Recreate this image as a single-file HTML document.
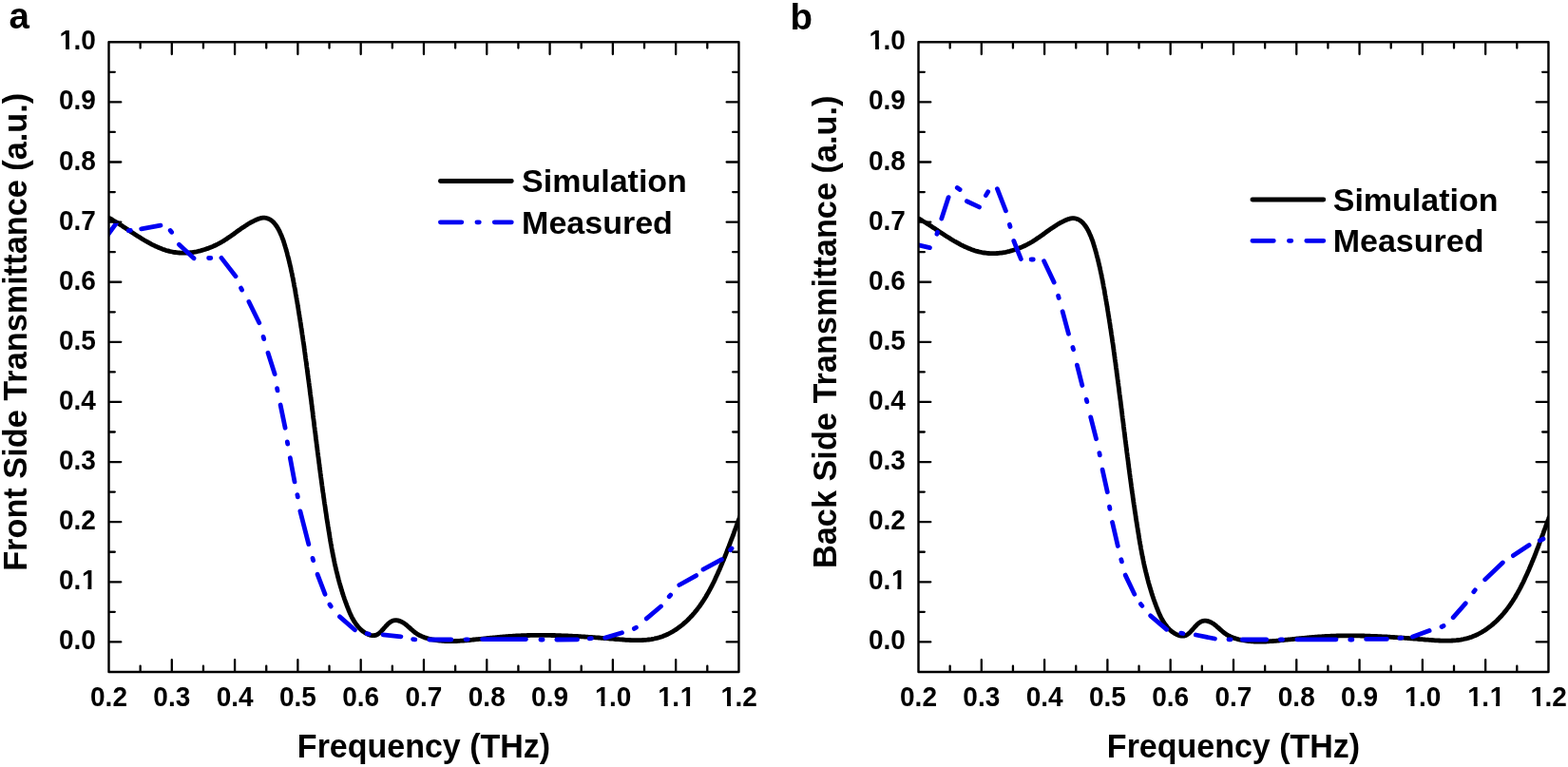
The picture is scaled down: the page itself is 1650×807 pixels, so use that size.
<!DOCTYPE html>
<html><head><meta charset="utf-8"><title>Transmittance</title>
<style>
html,body{margin:0;padding:0;background:#fff;}
body{width:1650px;height:807px;overflow:hidden;}
svg{display:block;font-family:"Liberation Sans", Arial, sans-serif;}
</style></head><body>
<svg width="1650" height="807" viewBox="0 0 1650 807">
<rect width="1650" height="807" fill="#fff"/>
<defs>
<clipPath id="clipa"><rect x="114.5" y="44.3" width="663.0" height="662.7"/></clipPath>
<clipPath id="clipb"><rect x="966.5" y="44.3" width="663.0" height="662.7"/></clipPath>
</defs>

<g clip-path="url(#clipa)">
<path d="M115.4,229.7 116.7,230.4 118.1,231.2 119.4,232.0 120.6,232.7 122.0,233.5 123.3,234.4 124.5,235.1 125.9,236.0 127.0,236.7 128.4,237.6 129.6,238.4 130.8,239.2 132.2,240.1 133.4,240.9 134.5,241.6 135.7,242.4 137.2,243.4 138.4,244.2 139.6,245.0 140.8,245.8 142.2,246.7 143.4,247.5 144.6,248.3 145.9,249.0 147.1,249.8 148.3,250.6 149.8,251.5 151.0,252.2 152.3,253.0 153.5,253.7 154.8,254.4 156.3,255.3 157.6,255.9 158.8,256.6 160.1,257.3 161.6,258.0 162.9,258.7 164.2,259.3 165.5,259.8 167.0,260.5 168.3,261.1 169.6,261.6 171.2,262.2 172.5,262.6 174.1,263.2 175.4,263.6 176.7,263.9 178.3,264.4 179.7,264.7 181.3,265.0 182.6,265.3 184.2,265.5 185.6,265.7 187.2,265.9 188.6,266.0 190.2,266.1 191.6,266.2 193.2,266.2 194.6,266.2 196.3,266.1 197.6,266.0 199.3,265.9 200.7,265.7 202.0,265.6 203.7,265.3 205.0,265.1 206.7,264.8 208.1,264.5 209.4,264.2 211.0,263.8 212.4,263.4 213.7,263.0 215.4,262.5 216.7,262.1 218.0,261.6 219.6,261.1 220.9,260.6 222.2,260.0 223.8,259.4 225.1,258.8 226.4,258.2 227.9,257.5 229.2,256.8 230.4,256.2 231.9,255.4 233.1,254.7 234.4,254.0 235.6,253.2 237.0,252.3 238.2,251.6 239.3,250.8 240.7,249.8 241.9,249.1 243.1,248.2 244.4,247.3 245.6,246.5 246.9,245.5 248.1,244.6 249.2,243.8 250.6,242.8 251.7,242.0 252.9,241.2 254.2,240.2 255.4,239.4 256.6,238.7 258.0,237.7 259.2,237.0 260.3,236.2 261.8,235.3 263.0,234.6 264.2,233.9 265.5,233.3 267.0,232.5 268.3,231.9 269.6,231.3 270.9,230.7 272.5,230.1 273.9,229.7 275.2,229.4 276.8,229.2 278.4,229.2 279.8,229.3 281.3,229.7 282.5,230.2 284.0,230.9 285.3,231.8 286.4,232.6 287.6,233.7 288.5,234.7 289.6,236.0 290.5,237.2 291.3,238.4 292.1,239.6 292.8,240.9 293.5,242.2 294.2,243.5 294.9,245.1 295.5,246.4 296.1,247.7 296.6,249.0 297.2,250.6 297.7,251.9 298.2,253.2 298.7,254.8 299.1,256.1 299.6,257.7 300.0,259.0 300.4,260.4 300.9,262.0 301.2,263.3 301.7,264.9 302.1,266.2 302.4,267.6 302.8,269.2 303.2,270.5 303.6,272.1 303.9,273.5 304.3,274.9 304.6,276.5 305.0,277.8 305.3,279.5 305.7,280.8 306.0,282.2 306.3,283.8 306.6,285.2 306.9,286.6 307.3,288.2 307.5,289.6 307.8,291.0 308.2,292.6 308.4,294.0 308.7,295.4 309.0,297.0 309.3,298.4 309.5,299.8 309.8,301.5 310.1,302.8 310.4,304.2 310.7,305.9 310.9,307.3 311.1,308.7 311.4,310.3 311.7,311.7 311.9,313.1 312.2,314.8 312.4,316.2 312.7,317.5 312.9,319.2 313.2,320.6 313.4,322.0 313.7,323.6 313.9,325.0 314.1,326.4 314.4,328.1 314.6,329.5 314.8,330.8 315.1,332.5 315.3,333.9 315.6,335.6 315.8,336.9 316.0,338.3 316.3,340.0 316.5,341.4 316.7,342.8 316.9,344.4 317.2,345.8 317.4,347.2 317.6,348.8 317.8,350.2 318.0,351.6 318.3,353.3 318.5,354.7 318.7,356.3 318.9,357.7 319.1,359.1 319.4,360.8 319.6,362.1 319.8,363.5 320.0,365.2 320.2,366.6 320.4,367.9 320.6,369.6 320.8,371.0 321.0,372.7 321.2,374.0 321.4,375.4 321.6,377.1 321.8,378.5 322.0,379.9 322.3,381.5 322.4,382.9 322.6,384.3 322.8,386.0 323.0,387.3 323.3,389.0 323.4,390.4 323.6,391.8 323.8,393.4 324.0,394.8 324.2,396.2 324.4,397.9 324.6,399.3 324.8,400.6 325.0,402.3 325.2,403.7 325.4,405.4 325.6,406.8 325.8,408.1 326.0,409.8 326.1,411.2 326.3,412.6 326.5,414.3 326.7,415.6 326.9,417.0 327.1,418.7 327.3,420.1 327.5,421.5 327.7,423.1 327.8,424.5 328.1,426.2 328.2,427.6 328.4,429.0 328.6,430.7 328.8,432.1 329.0,433.4 329.2,435.1 329.3,436.5 329.5,437.9 329.7,439.6 329.9,441.0 330.1,442.4 330.3,444.0 330.5,445.4 330.6,446.8 330.8,448.5 331.0,449.9 331.2,451.3 331.4,453.0 331.6,454.4 331.8,455.8 332.0,457.4 332.1,458.8 332.3,460.2 332.5,461.9 332.7,463.3 332.9,464.7 333.1,466.4 333.3,467.8 333.4,469.2 333.7,470.8 333.8,472.2 334.0,473.6 334.2,475.3 334.4,476.7 334.6,478.1 334.8,479.8 335.0,481.2 335.2,482.6 335.4,484.2 335.6,485.6 335.7,487.0 336.0,488.7 336.1,490.1 336.3,491.5 336.5,493.2 336.7,494.5 336.9,495.9 337.1,497.6 337.3,499.0 337.5,500.4 337.7,502.1 337.9,503.5 338.1,504.9 338.3,506.5 338.5,507.9 338.7,509.3 338.9,511.0 339.1,512.4 339.3,513.8 339.5,515.4 339.7,516.8 339.9,518.2 340.2,519.9 340.4,521.3 340.5,522.6 340.8,524.3 341.0,525.7 341.2,527.4 341.4,528.7 341.6,530.1 341.9,531.8 342.1,533.2 342.3,534.6 342.5,536.2 342.7,537.6 342.9,539.0 343.2,540.6 343.4,542.0 343.6,543.7 343.8,545.1 344.0,546.4 344.3,548.1 344.5,549.5 344.8,551.1 345.0,552.5 345.2,553.9 345.5,555.5 345.7,556.9 345.9,558.3 346.2,559.9 346.4,561.3 346.7,562.9 346.9,564.3 347.1,565.7 347.4,567.3 347.6,568.7 347.9,570.3 348.1,571.7 348.4,573.0 348.7,574.7 348.9,576.1 349.2,577.7 349.5,579.1 349.7,580.4 350.0,582.1 350.3,583.4 350.6,585.1 350.9,586.4 351.2,587.8 351.5,589.4 351.8,590.8 352.1,592.4 352.4,593.8 352.7,595.1 353.1,596.8 353.4,598.1 353.8,599.8 354.1,601.1 354.5,602.5 354.9,604.1 355.2,605.5 355.5,606.8 356.0,608.5 356.3,609.8 356.7,611.2 357.1,612.8 357.5,614.2 357.9,615.5 358.4,617.2 358.8,618.5 359.2,619.9 359.6,621.3 360.1,622.9 360.5,624.3 361.0,625.6 361.4,627.0 362.0,628.6 362.4,630.0 362.9,631.3 363.4,632.7 363.9,634.1 364.5,635.7 365.0,637.1 365.5,638.4 366.0,639.8 366.6,641.1 367.1,642.5 367.8,644.1 368.4,645.4 369.0,646.7 369.6,648.0 370.2,649.3 371.0,650.8 371.7,652.0 372.4,653.2 373.3,654.7 374.1,655.8 375.0,657.2 375.9,658.2 376.9,659.5 377.8,660.5 378.9,661.6 379.9,662.6 381.1,663.6 382.3,664.6 383.4,665.3 384.8,666.2 386.2,666.9 387.5,667.5 389.0,668.1 390.2,668.4 391.7,668.7 393.2,668.7 394.7,668.5 396.1,668.1 397.5,667.4 398.9,666.4 399.9,665.5 401.0,664.5 402.0,663.3 403.1,662.2 403.9,661.2 405.0,660.0 406.0,658.8 407.1,657.7 407.9,656.8 409.0,655.8 410.4,654.7 411.6,653.9 412.8,653.3 414.3,652.9 415.9,652.7 417.2,652.7 418.8,652.9 420.4,653.4 421.7,653.8 423.1,654.5 424.3,655.2 425.7,656.1 426.8,657.0 427.9,657.8 429.0,658.8 430.3,659.9 431.4,660.9 432.5,661.9 433.6,662.8 434.7,663.8 435.8,664.7 437.1,665.8 438.3,666.6 439.5,667.4 440.9,668.2 442.2,668.8 443.5,669.4 445.0,670.1 446.3,670.6 447.9,671.1 449.2,671.5 450.5,671.9 452.1,672.3 453.5,672.6 455.1,673.0 456.4,673.2 458.1,673.5 459.4,673.7 460.8,673.9 462.5,674.1 463.8,674.2 465.5,674.3 466.9,674.4 468.3,674.5 469.9,674.6 471.3,674.6 473.0,674.6 474.4,674.6 475.8,674.6 477.5,674.6 478.9,674.5 480.3,674.5 482.0,674.4 483.4,674.3 484.8,674.2 486.5,674.1 487.9,674.0 489.3,673.9 490.7,673.8 492.4,673.6 493.8,673.5 495.2,673.3 496.9,673.2 498.4,673.0 499.8,672.9 501.5,672.7 502.9,672.6 504.3,672.4 505.7,672.3 507.4,672.1 508.8,672.0 510.2,671.8 511.9,671.6 513.3,671.5 514.7,671.4 516.3,671.2 517.7,671.1 519.1,670.9 520.8,670.8 522.2,670.6 523.6,670.5 525.3,670.3 526.7,670.2 528.1,670.1 529.8,669.9 531.2,669.8 532.6,669.7 534.2,669.6 535.6,669.5 537.0,669.4 538.7,669.3 540.1,669.2 541.8,669.1 543.2,669.0 544.6,668.9 546.2,668.8 547.6,668.8 549.0,668.7 550.7,668.7 552.1,668.6 553.8,668.6 555.2,668.5 556.6,668.5 558.2,668.4 559.6,668.4 561.0,668.4 562.7,668.4 564.1,668.4 565.8,668.3 567.2,668.3 568.6,668.3 570.2,668.3 571.6,668.3 573.0,668.3 574.7,668.4 576.1,668.4 577.8,668.4 579.2,668.4 580.6,668.5 582.2,668.5 583.6,668.5 585.0,668.6 586.7,668.6 588.1,668.7 589.8,668.7 591.2,668.8 592.6,668.8 594.2,668.9 595.6,668.9 597.0,669.0 598.7,669.1 600.1,669.1 601.5,669.2 603.2,669.3 604.6,669.4 606.3,669.5 607.7,669.5 609.1,669.6 610.7,669.7 612.1,669.8 613.5,669.9 615.2,670.0 616.6,670.1 618.0,670.2 619.7,670.3 621.1,670.4 622.5,670.5 624.2,670.6 625.6,670.7 627.0,670.8 628.7,670.9 630.1,671.0 631.5,671.1 633.2,671.3 634.6,671.4 636.0,671.5 637.7,671.6 639.1,671.7 640.5,671.8 641.9,672.0 643.6,672.1 645.0,672.2 646.4,672.3 648.1,672.5 649.5,672.6 651.0,672.7 652.6,672.8 654.1,672.9 655.5,673.0 656.9,673.1 658.6,673.3 660.0,673.3 661.4,673.4 663.1,673.5 664.5,673.6 665.9,673.6 667.6,673.6 669.0,673.7 670.4,673.7 672.0,673.7 673.4,673.6 675.1,673.6 676.5,673.5 677.9,673.4 679.5,673.3 680.9,673.2 682.5,673.0 683.9,672.8 685.5,672.6 686.9,672.3 688.5,672.0 689.8,671.7 691.4,671.4 692.8,671.0 694.3,670.6 695.7,670.1 697.0,669.7 698.5,669.1 699.8,668.6 701.1,668.0 702.7,667.3 703.9,666.7 705.2,666.0 706.7,665.2 707.9,664.5 709.1,663.7 710.4,663.0 711.8,662.0 713.0,661.2 714.1,660.3 715.3,659.5 716.4,658.6 717.8,657.6 718.9,656.7 719.9,655.7 721.2,654.6 722.2,653.7 723.3,652.7 724.5,651.5 725.5,650.5 726.4,649.5 727.6,648.3 728.5,647.3 729.5,646.2 730.6,645.0 731.4,643.9 732.5,642.6 733.4,641.5 734.2,640.4 735.2,639.1 736.1,638.0 737.0,636.6 737.8,635.5 738.6,634.3 739.5,632.9 740.3,631.8 741.0,630.6 741.9,629.2 742.7,628.0 743.5,626.5 744.2,625.3 744.9,624.1 745.7,622.7 746.4,621.4 747.1,620.2 747.9,618.7 748.5,617.5 749.2,616.2 749.9,614.7 750.6,613.4 751.2,612.2 751.9,610.7 752.5,609.4 753.1,608.1 753.8,606.6 754.4,605.3 755.0,604.0 755.7,602.5 756.2,601.2 756.8,599.9 757.5,598.4 758.0,597.1 758.6,595.8 759.2,594.2 759.8,592.9 760.3,591.6 761.0,590.1 761.5,588.8 762.1,587.2 762.7,585.9 763.2,584.6 763.8,583.1 764.3,581.8 764.8,580.5 765.4,578.9 765.9,577.6 766.4,576.3 767.1,574.7 767.5,573.4 768.0,572.1 768.6,570.5 769.1,569.2 769.7,567.7 770.2,566.3 770.7,565.0 771.3,563.5 771.8,562.1 772.3,560.8 772.8,559.3 773.3,557.9 773.8,556.6 774.4,555.0 774.9,553.7 775.4,552.4 775.9,550.8 776.4,549.5 776.9,548.2 777.5,546.6 778.0,545.3 778.4,544.0" transform="translate(0.0,0.0)" stroke="#000" stroke-width="4.80" fill="none" stroke-linejoin="round" stroke-linecap="round"/>
<path d="M113.5,247.0 L122.4,234.8 M135.2,242.6 L137.4,242.4 M148.7,240.8 L169.0,237.1 M179.2,242.5 L180.6,244.3 M188.4,257.3 L204.0,271.8 M219.6,271.5 L221.8,271.5 M233.0,271.4 L248.0,290.7 M253.6,303.1 L254.6,305.1 M261.9,317.5 L272.8,339.7 M277.1,354.4 L277.7,356.6 M282.0,371.3 L289.1,393.6 M291.6,408.7 L292.0,410.9 M295.1,426.0 L300.1,450.2 M302.3,464.9 L302.7,467.1 M305.3,481.8 L310.0,506.9 M312.9,520.6 L313.3,522.8 M315.9,537.9 L324.8,572.6 M329.0,587.4 L329.6,589.6 M334.1,604.3 L342.0,625.2 M347.0,636.1 L348.2,637.9 M357.5,648.9 L373.4,662.8 M386.1,666.6 L388.3,667.0 M403.1,667.8 L421.9,669.8 M434.6,672.7 L436.8,672.9 M451.8,673.0 L474.8,673.0 M490.1,672.8 L492.3,672.8 M507.5,672.6 L553.5,672.6 M568.9,673.0 L571.1,673.0 M585.8,673.0 L607.6,672.8 M620.2,671.9 L622.4,671.7 M636.7,671.1 L654.5,665.8 M667.4,661.4 L669.4,660.2 M680.3,650.9 L695.5,638.0 M704.2,627.7 L705.6,626.1 M714.8,615.5 L732.6,605.6 M740.0,599.1 L759.4,588.7 M768.6,578.6 L770.0,577.0" stroke="#0000f2" stroke-width="4.80" fill="none" stroke-linejoin="round" stroke-linecap="round"/>
</g>
<path d="M147.65,705.80v-5.15 M147.65,45.45v5.15 M180.80,705.80v-11.65 M180.80,45.45v11.65 M213.94,705.80v-5.15 M213.94,45.45v5.15 M247.09,705.80v-11.65 M247.09,45.45v11.65 M280.24,705.80v-5.15 M280.24,45.45v5.15 M313.38,705.80v-11.65 M313.38,45.45v11.65 M346.53,705.80v-5.15 M346.53,45.45v5.15 M379.68,705.80v-11.65 M379.68,45.45v11.65 M412.83,705.80v-5.15 M412.83,45.45v5.15 M445.97,705.80v-11.65 M445.97,45.45v11.65 M479.12,705.80v-5.15 M479.12,45.45v5.15 M512.27,705.80v-11.65 M512.27,45.45v11.65 M545.42,705.80v-5.15 M545.42,45.45v5.15 M578.57,705.80v-11.65 M578.57,45.45v11.65 M611.71,705.80v-5.15 M611.71,45.45v5.15 M644.86,705.80v-11.65 M644.86,45.45v11.65 M678.01,705.80v-5.15 M678.01,45.45v5.15 M711.16,705.80v-11.65 M711.16,45.45v11.65 M744.30,705.80v-5.15 M744.30,45.45v5.15 M115.65,675.40h11.65 M776.30,675.40h-11.65 M115.65,643.85h5.15 M776.30,643.85h-5.15 M115.65,612.29h11.65 M776.30,612.29h-11.65 M115.65,580.73h5.15 M776.30,580.73h-5.15 M115.65,549.18h11.65 M776.30,549.18h-11.65 M115.65,517.62h5.15 M776.30,517.62h-5.15 M115.65,486.07h11.65 M776.30,486.07h-11.65 M115.65,454.51h5.15 M776.30,454.51h-5.15 M115.65,422.96h11.65 M776.30,422.96h-11.65 M115.65,391.40h5.15 M776.30,391.40h-5.15 M115.65,359.85h11.65 M776.30,359.85h-11.65 M115.65,328.29h5.15 M776.30,328.29h-5.15 M115.65,296.74h11.65 M776.30,296.74h-11.65 M115.65,265.18h5.15 M776.30,265.18h-5.15 M115.65,233.63h11.65 M776.30,233.63h-11.65 M115.65,202.07h5.15 M776.30,202.07h-5.15 M115.65,170.52h11.65 M776.30,170.52h-11.65 M115.65,138.96h5.15 M776.30,138.96h-5.15 M115.65,107.41h11.65 M776.30,107.41h-11.65 M115.65,75.86h5.15 M776.30,75.86h-5.15" stroke="#000" stroke-width="2.3" stroke-linecap="round" fill="none"/>
<rect x="114.50" y="44.30" width="662.95" height="662.65" fill="none" stroke="#000" stroke-width="2.4" stroke-linejoin="round"/>
<g font-size="28" font-weight="bold"><text transform="translate(95.04,742.60) scale(1,1.040)" x="0.00 15.57 23.35">0.2</text><text transform="translate(161.33,742.60) scale(1,1.040)" x="0.00 15.57 23.35">0.3</text><text transform="translate(227.63,742.60) scale(1,1.040)" x="0.00 15.57 23.35">0.4</text><text transform="translate(293.92,742.60) scale(1,1.040)" x="0.00 15.57 23.35">0.5</text><text transform="translate(360.22,742.60) scale(1,1.040)" x="0.00 15.57 23.35">0.6</text><text transform="translate(426.51,742.60) scale(1,1.040)" x="0.00 15.57 23.35">0.7</text><text transform="translate(492.81,742.60) scale(1,1.040)" x="0.00 15.57 23.35">0.8</text><text transform="translate(559.10,742.60) scale(1,1.040)" x="0.00 15.57 23.35">0.9</text><text transform="translate(625.40,742.60) scale(1,1.040)" x="0.60 15.57 23.35">1.0</text><text transform="translate(691.69,742.60) scale(1,1.040)" x="0.60 15.57 23.95">1.1</text><text transform="translate(757.99,742.60) scale(1,1.040)" x="0.60 15.57 23.35">1.2</text><text transform="translate(61.98,683.40) scale(1,1.040)" x="0.00 15.57 23.35">0.0</text><text transform="translate(61.98,620.29) scale(1,1.040)" x="0.00 15.57 23.95">0.1</text><text transform="translate(61.98,557.18) scale(1,1.040)" x="0.00 15.57 23.35">0.2</text><text transform="translate(61.98,494.07) scale(1,1.040)" x="0.00 15.57 23.35">0.3</text><text transform="translate(61.98,430.96) scale(1,1.040)" x="0.00 15.57 23.35">0.4</text><text transform="translate(61.98,367.85) scale(1,1.040)" x="0.00 15.57 23.35">0.5</text><text transform="translate(61.98,304.74) scale(1,1.040)" x="0.00 15.57 23.35">0.6</text><text transform="translate(61.98,241.63) scale(1,1.040)" x="0.00 15.57 23.35">0.7</text><text transform="translate(61.98,178.52) scale(1,1.040)" x="0.00 15.57 23.35">0.8</text><text transform="translate(61.98,115.41) scale(1,1.040)" x="0.00 15.57 23.35">0.9</text><text transform="translate(61.98,52.30) scale(1,1.040)" x="0.60 15.57 23.35">1.0</text></g>
<g fill="#fff"><rect x="626.96" y="739.28" width="5.52" height="3.92"/><rect x="636.43" y="739.28" width="5.17" height="3.92"/><rect x="693.26" y="739.28" width="5.52" height="3.92"/><rect x="702.72" y="739.28" width="5.17" height="3.92"/><rect x="716.61" y="739.28" width="5.52" height="3.92"/><rect x="726.07" y="739.28" width="5.17" height="3.92"/><rect x="759.55" y="739.28" width="5.52" height="3.92"/><rect x="769.02" y="739.28" width="5.17" height="3.92"/><rect x="86.89" y="616.97" width="5.52" height="3.92"/><rect x="96.35" y="616.97" width="5.17" height="3.92"/><rect x="63.54" y="48.98" width="5.52" height="3.92"/><rect x="73.00" y="48.98" width="5.17" height="3.92"/></g>
<path d="M463.4,190.5H538.3" stroke="#000" stroke-width="4.80" stroke-linecap="round"/>
<path d="M463.4,233.8H485.8 M501.9,233.8H504.3 M520.3,233.8H538.3" stroke="#0000f2" stroke-width="4.80" stroke-linecap="round"/>
<g font-size="34" font-weight="bold">
<text transform="translate(549.1,202.4) scale(1,1.000)">Simulation</text>
<text transform="translate(549.1,245.7) scale(1,1.000)">Measured</text>
</g>
<text transform="translate(446.0,797.4) scale(1,1.020)" font-size="34" font-weight="bold" text-anchor="middle">Frequency (THz)</text>
<text transform="translate(27.8,349.3) rotate(-90)" font-size="34.3" font-weight="bold" text-anchor="middle">Front Side Transmittance (a.u.)</text>
<g clip-path="url(#clipb)">
<path d="M115.4,229.7 116.7,230.4 118.1,231.2 119.4,232.0 120.6,232.7 122.0,233.5 123.3,234.4 124.5,235.1 125.9,236.0 127.0,236.7 128.4,237.6 129.6,238.4 130.8,239.2 132.2,240.1 133.4,240.9 134.5,241.6 135.7,242.4 137.2,243.4 138.4,244.2 139.6,245.0 140.8,245.8 142.2,246.7 143.4,247.5 144.6,248.3 145.9,249.0 147.1,249.8 148.3,250.6 149.8,251.5 151.0,252.2 152.3,253.0 153.5,253.7 154.8,254.4 156.3,255.3 157.6,255.9 158.8,256.6 160.1,257.3 161.6,258.0 162.9,258.7 164.2,259.3 165.5,259.8 167.0,260.5 168.3,261.1 169.6,261.6 171.2,262.2 172.5,262.6 174.1,263.2 175.4,263.6 176.7,263.9 178.3,264.4 179.7,264.7 181.3,265.0 182.6,265.3 184.2,265.5 185.6,265.7 187.2,265.9 188.6,266.0 190.2,266.1 191.6,266.2 193.2,266.2 194.6,266.2 196.3,266.1 197.6,266.0 199.3,265.9 200.7,265.7 202.0,265.6 203.7,265.3 205.0,265.1 206.7,264.8 208.1,264.5 209.4,264.2 211.0,263.8 212.4,263.4 213.7,263.0 215.4,262.5 216.7,262.1 218.0,261.6 219.6,261.1 220.9,260.6 222.2,260.0 223.8,259.4 225.1,258.8 226.4,258.2 227.9,257.5 229.2,256.8 230.4,256.2 231.9,255.4 233.1,254.7 234.4,254.0 235.6,253.2 237.0,252.3 238.2,251.6 239.3,250.8 240.7,249.8 241.9,249.1 243.1,248.2 244.4,247.3 245.6,246.5 246.9,245.5 248.1,244.6 249.2,243.8 250.6,242.8 251.7,242.0 252.9,241.2 254.2,240.2 255.4,239.4 256.6,238.7 258.0,237.7 259.2,237.0 260.3,236.2 261.8,235.3 263.0,234.6 264.2,233.9 265.5,233.3 267.0,232.5 268.3,231.9 269.6,231.3 270.9,230.7 272.5,230.1 273.9,229.7 275.2,229.4 276.8,229.2 278.4,229.2 279.8,229.3 281.3,229.7 282.5,230.2 284.0,230.9 285.3,231.8 286.4,232.6 287.6,233.7 288.5,234.7 289.6,236.0 290.5,237.2 291.3,238.4 292.1,239.6 292.8,240.9 293.5,242.2 294.2,243.5 294.9,245.1 295.5,246.4 296.1,247.7 296.6,249.0 297.2,250.6 297.7,251.9 298.2,253.2 298.7,254.8 299.1,256.1 299.6,257.7 300.0,259.0 300.4,260.4 300.9,262.0 301.2,263.3 301.7,264.9 302.1,266.2 302.4,267.6 302.8,269.2 303.2,270.5 303.6,272.1 303.9,273.5 304.3,274.9 304.6,276.5 305.0,277.8 305.3,279.5 305.7,280.8 306.0,282.2 306.3,283.8 306.6,285.2 306.9,286.6 307.3,288.2 307.5,289.6 307.8,291.0 308.2,292.6 308.4,294.0 308.7,295.4 309.0,297.0 309.3,298.4 309.5,299.8 309.8,301.5 310.1,302.8 310.4,304.2 310.7,305.9 310.9,307.3 311.1,308.7 311.4,310.3 311.7,311.7 311.9,313.1 312.2,314.8 312.4,316.2 312.7,317.5 312.9,319.2 313.2,320.6 313.4,322.0 313.7,323.6 313.9,325.0 314.1,326.4 314.4,328.1 314.6,329.5 314.8,330.8 315.1,332.5 315.3,333.9 315.6,335.6 315.8,336.9 316.0,338.3 316.3,340.0 316.5,341.4 316.7,342.8 316.9,344.4 317.2,345.8 317.4,347.2 317.6,348.8 317.8,350.2 318.0,351.6 318.3,353.3 318.5,354.7 318.7,356.3 318.9,357.7 319.1,359.1 319.4,360.8 319.6,362.1 319.8,363.5 320.0,365.2 320.2,366.6 320.4,367.9 320.6,369.6 320.8,371.0 321.0,372.7 321.2,374.0 321.4,375.4 321.6,377.1 321.8,378.5 322.0,379.9 322.3,381.5 322.4,382.9 322.6,384.3 322.8,386.0 323.0,387.3 323.3,389.0 323.4,390.4 323.6,391.8 323.8,393.4 324.0,394.8 324.2,396.2 324.4,397.9 324.6,399.3 324.8,400.6 325.0,402.3 325.2,403.7 325.4,405.4 325.6,406.8 325.8,408.1 326.0,409.8 326.1,411.2 326.3,412.6 326.5,414.3 326.7,415.6 326.9,417.0 327.1,418.7 327.3,420.1 327.5,421.5 327.7,423.1 327.8,424.5 328.1,426.2 328.2,427.6 328.4,429.0 328.6,430.7 328.8,432.1 329.0,433.4 329.2,435.1 329.3,436.5 329.5,437.9 329.7,439.6 329.9,441.0 330.1,442.4 330.3,444.0 330.5,445.4 330.6,446.8 330.8,448.5 331.0,449.9 331.2,451.3 331.4,453.0 331.6,454.4 331.8,455.8 332.0,457.4 332.1,458.8 332.3,460.2 332.5,461.9 332.7,463.3 332.9,464.7 333.1,466.4 333.3,467.8 333.4,469.2 333.7,470.8 333.8,472.2 334.0,473.6 334.2,475.3 334.4,476.7 334.6,478.1 334.8,479.8 335.0,481.2 335.2,482.6 335.4,484.2 335.6,485.6 335.7,487.0 336.0,488.7 336.1,490.1 336.3,491.5 336.5,493.2 336.7,494.5 336.9,495.9 337.1,497.6 337.3,499.0 337.5,500.4 337.7,502.1 337.9,503.5 338.1,504.9 338.3,506.5 338.5,507.9 338.7,509.3 338.9,511.0 339.1,512.4 339.3,513.8 339.5,515.4 339.7,516.8 339.9,518.2 340.2,519.9 340.4,521.3 340.5,522.6 340.8,524.3 341.0,525.7 341.2,527.4 341.4,528.7 341.6,530.1 341.9,531.8 342.1,533.2 342.3,534.6 342.5,536.2 342.7,537.6 342.9,539.0 343.2,540.6 343.4,542.0 343.6,543.7 343.8,545.1 344.0,546.4 344.3,548.1 344.5,549.5 344.8,551.1 345.0,552.5 345.2,553.9 345.5,555.5 345.7,556.9 345.9,558.3 346.2,559.9 346.4,561.3 346.7,562.9 346.9,564.3 347.1,565.7 347.4,567.3 347.6,568.7 347.9,570.3 348.1,571.7 348.4,573.0 348.7,574.7 348.9,576.1 349.2,577.7 349.5,579.1 349.7,580.4 350.0,582.1 350.3,583.4 350.6,585.1 350.9,586.4 351.2,587.8 351.5,589.4 351.8,590.8 352.1,592.4 352.4,593.8 352.7,595.1 353.1,596.8 353.4,598.1 353.8,599.8 354.1,601.1 354.5,602.5 354.9,604.1 355.2,605.5 355.5,606.8 356.0,608.5 356.3,609.8 356.7,611.2 357.1,612.8 357.5,614.2 357.9,615.5 358.4,617.2 358.8,618.5 359.2,619.9 359.6,621.3 360.1,622.9 360.5,624.3 361.0,625.6 361.4,627.0 362.0,628.6 362.4,630.0 362.9,631.3 363.4,632.7 363.9,634.1 364.5,635.7 365.0,637.1 365.5,638.4 366.0,639.8 366.6,641.1 367.1,642.5 367.8,644.1 368.4,645.4 369.0,646.7 369.6,648.0 370.2,649.3 371.0,650.8 371.7,652.0 372.4,653.2 373.3,654.7 374.1,655.8 375.0,657.2 375.9,658.2 376.9,659.5 377.8,660.5 378.9,661.6 379.9,662.6 381.1,663.6 382.3,664.6 383.4,665.3 384.8,666.2 386.2,666.9 387.5,667.5 389.0,668.1 390.2,668.4 391.7,668.7 393.2,668.7 394.7,668.5 396.1,668.1 397.5,667.4 398.9,666.4 399.9,665.5 401.0,664.5 402.0,663.3 403.1,662.2 403.9,661.2 405.0,660.0 406.0,658.8 407.1,657.7 407.9,656.8 409.0,655.8 410.4,654.7 411.6,653.9 412.8,653.3 414.3,652.9 415.9,652.7 417.2,652.7 418.8,652.9 420.4,653.4 421.7,653.8 423.1,654.5 424.3,655.2 425.7,656.1 426.8,657.0 427.9,657.8 429.0,658.8 430.3,659.9 431.4,660.9 432.5,661.9 433.6,662.8 434.7,663.8 435.8,664.7 437.1,665.8 438.3,666.6 439.5,667.4 440.9,668.2 442.2,668.8 443.5,669.4 445.0,670.1 446.3,670.6 447.9,671.1 449.2,671.5 450.5,671.9 452.1,672.3 453.5,672.6 455.1,673.0 456.4,673.2 458.1,673.5 459.4,673.7 460.8,673.9 462.5,674.1 463.8,674.2 465.5,674.3 466.9,674.4 468.3,674.5 469.9,674.6 471.3,674.6 473.0,674.6 474.4,674.6 475.8,674.6 477.5,674.6 478.9,674.5 480.3,674.5 482.0,674.4 483.4,674.3 484.8,674.2 486.5,674.1 487.9,674.0 489.3,673.9 490.7,673.8 492.4,673.6 493.8,673.5 495.2,673.3 496.9,673.2 498.4,673.0 499.8,672.9 501.5,672.7 502.9,672.6 504.3,672.4 505.7,672.3 507.4,672.1 508.8,672.0 510.2,671.8 511.9,671.6 513.3,671.5 514.7,671.4 516.3,671.2 517.7,671.1 519.1,670.9 520.8,670.8 522.2,670.6 523.6,670.5 525.3,670.3 526.7,670.2 528.1,670.1 529.8,669.9 531.2,669.8 532.6,669.7 534.2,669.6 535.6,669.5 537.0,669.4 538.7,669.3 540.1,669.2 541.8,669.1 543.2,669.0 544.6,668.9 546.2,668.8 547.6,668.8 549.0,668.7 550.7,668.7 552.1,668.6 553.8,668.6 555.2,668.5 556.6,668.5 558.2,668.4 559.6,668.4 561.0,668.4 562.7,668.4 564.1,668.4 565.8,668.3 567.2,668.3 568.6,668.3 570.2,668.3 571.6,668.3 573.0,668.3 574.7,668.4 576.1,668.4 577.8,668.4 579.2,668.4 580.6,668.5 582.2,668.5 583.6,668.5 585.0,668.6 586.7,668.6 588.1,668.7 589.8,668.7 591.2,668.8 592.6,668.8 594.2,668.9 595.6,668.9 597.0,669.0 598.7,669.1 600.1,669.1 601.5,669.2 603.2,669.3 604.6,669.4 606.3,669.5 607.7,669.5 609.1,669.6 610.7,669.7 612.1,669.8 613.5,669.9 615.2,670.0 616.6,670.1 618.0,670.2 619.7,670.3 621.1,670.4 622.5,670.5 624.2,670.6 625.6,670.7 627.0,670.8 628.7,670.9 630.1,671.0 631.5,671.1 633.2,671.3 634.6,671.4 636.0,671.5 637.7,671.6 639.1,671.7 640.5,671.8 641.9,672.0 643.6,672.1 645.0,672.2 646.4,672.3 648.1,672.5 649.5,672.6 651.0,672.7 652.6,672.8 654.1,672.9 655.5,673.0 656.9,673.1 658.6,673.3 660.0,673.3 661.4,673.4 663.1,673.5 664.5,673.6 665.9,673.6 667.6,673.6 669.0,673.7 670.4,673.7 672.0,673.7 673.4,673.6 675.1,673.6 676.5,673.5 677.9,673.4 679.5,673.3 680.9,673.2 682.5,673.0 683.9,672.8 685.5,672.6 686.9,672.3 688.5,672.0 689.8,671.7 691.4,671.4 692.8,671.0 694.3,670.6 695.7,670.1 697.0,669.7 698.5,669.1 699.8,668.6 701.1,668.0 702.7,667.3 703.9,666.7 705.2,666.0 706.7,665.2 707.9,664.5 709.1,663.7 710.4,663.0 711.8,662.0 713.0,661.2 714.1,660.3 715.3,659.5 716.4,658.6 717.8,657.6 718.9,656.7 719.9,655.7 721.2,654.6 722.2,653.7 723.3,652.7 724.5,651.5 725.5,650.5 726.4,649.5 727.6,648.3 728.5,647.3 729.5,646.2 730.6,645.0 731.4,643.9 732.5,642.6 733.4,641.5 734.2,640.4 735.2,639.1 736.1,638.0 737.0,636.6 737.8,635.5 738.6,634.3 739.5,632.9 740.3,631.8 741.0,630.6 741.9,629.2 742.7,628.0 743.5,626.5 744.2,625.3 744.9,624.1 745.7,622.7 746.4,621.4 747.1,620.2 747.9,618.7 748.5,617.5 749.2,616.2 749.9,614.7 750.6,613.4 751.2,612.2 751.9,610.7 752.5,609.4 753.1,608.1 753.8,606.6 754.4,605.3 755.0,604.0 755.7,602.5 756.2,601.2 756.8,599.9 757.5,598.4 758.0,597.1 758.6,595.8 759.2,594.2 759.8,592.9 760.3,591.6 761.0,590.1 761.5,588.8 762.1,587.2 762.7,585.9 763.2,584.6 763.8,583.1 764.3,581.8 764.8,580.5 765.4,578.9 765.9,577.6 766.4,576.3 767.1,574.7 767.5,573.4 768.0,572.1 768.6,570.5 769.1,569.2 769.7,567.7 770.2,566.3 770.7,565.0 771.3,563.5 771.8,562.1 772.3,560.8 772.8,559.3 773.3,557.9 773.8,556.6 774.4,555.0 774.9,553.7 775.4,552.4 775.9,550.8 776.4,549.5 776.9,548.2 777.5,546.6 778.0,545.3 778.4,544.0" transform="translate(851.6,0.5)" stroke="#000" stroke-width="4.80" fill="none" stroke-linejoin="round" stroke-linecap="round"/>
<path d="M965.0,257.5 L978.4,260.6 M985.9,246.2 L986.5,244.2 M990.8,230.0 L998.1,207.6 M1007.3,197.5 L1010.1,199.5 M1017.4,211.8 L1030.5,217.9 M1037.4,205.6 L1039.7,201.7 M1049.4,198.7 L1058.4,221.8 M1062.4,236.3 L1063.0,238.5 M1066.8,253.5 L1074.3,272.4 M1085.1,273.0 L1087.3,273.0 M1098.6,274.7 L1109.2,297.1 M1113.6,311.3 L1114.2,313.5 M1118.1,327.7 L1124.5,351.3 M1128.9,365.5 L1129.5,367.7 M1133.4,384.2 L1138.8,405.5 M1143.2,420.4 L1143.8,422.6 M1147.7,438.9 L1153.5,461.7 M1156.9,476.6 L1157.3,478.8 M1160.1,494.2 L1165.3,517.7 M1167.5,533.1 L1167.9,535.3 M1170.5,549.5 L1176.3,574.5 M1179.8,588.7 L1180.4,590.9 M1184.2,605.1 L1193.8,625.2 M1200.4,635.6 L1201.8,637.4 M1210.7,647.8 L1227.7,662.3 M1242.7,666.1 L1244.9,666.5 M1258.3,668.0 L1278.4,672.0 M1292.9,672.8 L1295.1,672.8 M1307.3,673.0 L1332.7,673.0 M1347.4,673.0 L1349.6,673.0 M1364.8,672.8 L1406.0,672.8 M1420.7,673.0 L1422.9,673.0 M1437.6,672.4 L1459.4,672.4 M1472.8,671.3 L1475.0,671.1 M1486.5,670.1 L1504.1,663.6 M1517.1,659.5 L1519.1,658.5 M1529.2,649.7 L1542.2,634.8 M1550.8,622.7 L1552.2,620.9 M1562.7,609.7 L1581.3,592.0 M1592.4,584.6 L1609.1,573.5 M1620.3,568.8 L1624.0,567.0" stroke="#0000f2" stroke-width="4.80" fill="none" stroke-linejoin="round" stroke-linecap="round"/>
</g>
<path d="M999.65,705.80v-5.15 M999.65,45.45v5.15 M1032.80,705.80v-11.65 M1032.80,45.45v11.65 M1065.94,705.80v-5.15 M1065.94,45.45v5.15 M1099.09,705.80v-11.65 M1099.09,45.45v11.65 M1132.24,705.80v-5.15 M1132.24,45.45v5.15 M1165.38,705.80v-11.65 M1165.38,45.45v11.65 M1198.53,705.80v-5.15 M1198.53,45.45v5.15 M1231.68,705.80v-11.65 M1231.68,45.45v11.65 M1264.83,705.80v-5.15 M1264.83,45.45v5.15 M1297.97,705.80v-11.65 M1297.97,45.45v11.65 M1331.12,705.80v-5.15 M1331.12,45.45v5.15 M1364.27,705.80v-11.65 M1364.27,45.45v11.65 M1397.42,705.80v-5.15 M1397.42,45.45v5.15 M1430.57,705.80v-11.65 M1430.57,45.45v11.65 M1463.71,705.80v-5.15 M1463.71,45.45v5.15 M1496.86,705.80v-11.65 M1496.86,45.45v11.65 M1530.01,705.80v-5.15 M1530.01,45.45v5.15 M1563.16,705.80v-11.65 M1563.16,45.45v11.65 M1596.30,705.80v-5.15 M1596.30,45.45v5.15 M967.65,675.40h11.65 M1628.30,675.40h-11.65 M967.65,643.85h5.15 M1628.30,643.85h-5.15 M967.65,612.29h11.65 M1628.30,612.29h-11.65 M967.65,580.73h5.15 M1628.30,580.73h-5.15 M967.65,549.18h11.65 M1628.30,549.18h-11.65 M967.65,517.62h5.15 M1628.30,517.62h-5.15 M967.65,486.07h11.65 M1628.30,486.07h-11.65 M967.65,454.51h5.15 M1628.30,454.51h-5.15 M967.65,422.96h11.65 M1628.30,422.96h-11.65 M967.65,391.40h5.15 M1628.30,391.40h-5.15 M967.65,359.85h11.65 M1628.30,359.85h-11.65 M967.65,328.29h5.15 M1628.30,328.29h-5.15 M967.65,296.74h11.65 M1628.30,296.74h-11.65 M967.65,265.18h5.15 M1628.30,265.18h-5.15 M967.65,233.63h11.65 M1628.30,233.63h-11.65 M967.65,202.07h5.15 M1628.30,202.07h-5.15 M967.65,170.52h11.65 M1628.30,170.52h-11.65 M967.65,138.96h5.15 M1628.30,138.96h-5.15 M967.65,107.41h11.65 M1628.30,107.41h-11.65 M967.65,75.86h5.15 M1628.30,75.86h-5.15" stroke="#000" stroke-width="2.3" stroke-linecap="round" fill="none"/>
<rect x="966.50" y="44.30" width="662.95" height="662.65" fill="none" stroke="#000" stroke-width="2.4" stroke-linejoin="round"/>
<g font-size="28" font-weight="bold"><text transform="translate(947.04,742.60) scale(1,1.040)" x="0.00 15.57 23.35">0.2</text><text transform="translate(1013.33,742.60) scale(1,1.040)" x="0.00 15.57 23.35">0.3</text><text transform="translate(1079.63,742.60) scale(1,1.040)" x="0.00 15.57 23.35">0.4</text><text transform="translate(1145.92,742.60) scale(1,1.040)" x="0.00 15.57 23.35">0.5</text><text transform="translate(1212.22,742.60) scale(1,1.040)" x="0.00 15.57 23.35">0.6</text><text transform="translate(1278.51,742.60) scale(1,1.040)" x="0.00 15.57 23.35">0.7</text><text transform="translate(1344.81,742.60) scale(1,1.040)" x="0.00 15.57 23.35">0.8</text><text transform="translate(1411.10,742.60) scale(1,1.040)" x="0.00 15.57 23.35">0.9</text><text transform="translate(1477.40,742.60) scale(1,1.040)" x="0.60 15.57 23.35">1.0</text><text transform="translate(1543.69,742.60) scale(1,1.040)" x="0.60 15.57 23.95">1.1</text><text transform="translate(1609.99,742.60) scale(1,1.040)" x="0.60 15.57 23.35">1.2</text><text transform="translate(913.98,683.40) scale(1,1.040)" x="0.00 15.57 23.35">0.0</text><text transform="translate(913.98,620.29) scale(1,1.040)" x="0.00 15.57 23.95">0.1</text><text transform="translate(913.98,557.18) scale(1,1.040)" x="0.00 15.57 23.35">0.2</text><text transform="translate(913.98,494.07) scale(1,1.040)" x="0.00 15.57 23.35">0.3</text><text transform="translate(913.98,430.96) scale(1,1.040)" x="0.00 15.57 23.35">0.4</text><text transform="translate(913.98,367.85) scale(1,1.040)" x="0.00 15.57 23.35">0.5</text><text transform="translate(913.98,304.74) scale(1,1.040)" x="0.00 15.57 23.35">0.6</text><text transform="translate(913.98,241.63) scale(1,1.040)" x="0.00 15.57 23.35">0.7</text><text transform="translate(913.98,178.52) scale(1,1.040)" x="0.00 15.57 23.35">0.8</text><text transform="translate(913.98,115.41) scale(1,1.040)" x="0.00 15.57 23.35">0.9</text><text transform="translate(913.98,52.30) scale(1,1.040)" x="0.60 15.57 23.35">1.0</text></g>
<g fill="#fff"><rect x="1478.96" y="739.28" width="5.52" height="3.92"/><rect x="1488.43" y="739.28" width="5.17" height="3.92"/><rect x="1545.26" y="739.28" width="5.52" height="3.92"/><rect x="1554.72" y="739.28" width="5.17" height="3.92"/><rect x="1568.61" y="739.28" width="5.52" height="3.92"/><rect x="1578.07" y="739.28" width="5.17" height="3.92"/><rect x="1611.55" y="739.28" width="5.52" height="3.92"/><rect x="1621.02" y="739.28" width="5.17" height="3.92"/><rect x="938.89" y="616.97" width="5.52" height="3.92"/><rect x="948.35" y="616.97" width="5.17" height="3.92"/><rect x="915.54" y="48.98" width="5.52" height="3.92"/><rect x="925.00" y="48.98" width="5.17" height="3.92"/></g>
<path d="M1317.9,210.0H1392.8" stroke="#000" stroke-width="4.80" stroke-linecap="round"/>
<path d="M1317.9,253.3H1340.3 M1356.4,253.3H1358.8 M1374.8,253.3H1392.8" stroke="#0000f2" stroke-width="4.80" stroke-linecap="round"/>
<g font-size="34" font-weight="bold">
<text transform="translate(1402.7,221.9) scale(1,1.000)">Simulation</text>
<text transform="translate(1402.7,265.2) scale(1,1.000)">Measured</text>
</g>
<text transform="translate(1298.0,797.4) scale(1,1.020)" font-size="34" font-weight="bold" text-anchor="middle">Frequency (THz)</text>
<text transform="translate(879.8,349.3) rotate(-90)" font-size="34.3" font-weight="bold" text-anchor="middle">Back Side Transmittance (a.u.)</text>
<text transform="translate(9.5,30) scale(1,1.020)" font-size="38.5" font-weight="bold">a</text>
<text transform="translate(831.5,31.3) scale(1,1.020)" font-size="38.5" font-weight="bold">b</text>
</svg>
</body></html>
